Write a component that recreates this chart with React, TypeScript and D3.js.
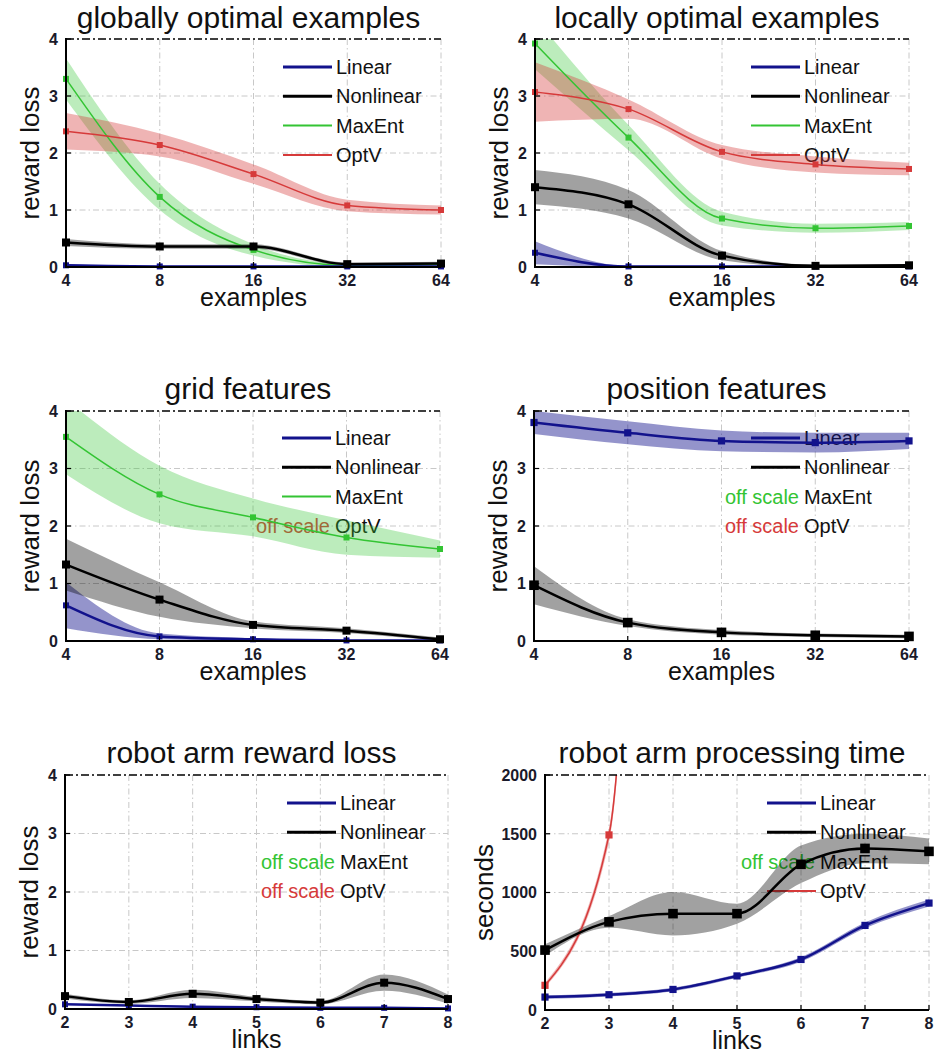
import React from 'react';
import * as d3 from 'd3';

// x values
const exampleCounts = [4, 8, 16, 32, 64];
const linkCounts = [2, 3, 4, 5, 6, 7, 8];
const optVLinks = [2, 3, 4];

// y tick values
const lossTicks = [0, 1, 2, 3, 4];
const timeTicks = [0, 500, 1000, 1500, 2000];

// globally optimal examples (mean, std)
const globalLinear = [0.03, 0.01, 0.01, 0.01, 0.01];
const globalLinearSd = [0.02, 0.01, 0.01, 0.01, 0.01];
const globalNonlinear = [0.43, 0.36, 0.36, 0.05, 0.06];
const globalNonlinearSd = [0.06, 0.04, 0.04, 0.03, 0.03];
const globalMaxEnt = [3.3, 1.23, 0.3, 0.03, 0.05];
const globalMaxEntSd = [0.36, 0.23, 0.1, 0.03, 0.02];
const globalOptV = [2.38, 2.14, 1.63, 1.08, 1.0];
const globalOptVSd = [0.32, 0.2, 0.17, 0.1, 0.08];

// locally optimal examples
const localLinear = [0.25, 0.01, 0.01, 0.01, 0.01];
const localLinearSd = [0.2, 0.01, 0.01, 0.01, 0.01];
const localNonlinear = [1.4, 1.1, 0.2, 0.02, 0.03];
const localNonlinearSd = [0.3, 0.25, 0.08, 0.02, 0.02];
const localMaxEnt = [3.92, 2.27, 0.85, 0.68, 0.72];
const localMaxEntSd = [0.45, 0.22, 0.12, 0.08, 0.07];
const localOptV = [3.07, 2.77, 2.02, 1.8, 1.72];
const localOptVSd = [0.52, 0.17, 0.12, 0.14, 0.11];

// grid features
const gridLinear = [0.62, 0.08, 0.03, 0.01, 0.01];
const gridLinearSd = [0.4, 0.05, 0.02, 0.01, 0.01];
const gridNonlinear = [1.33, 0.72, 0.28, 0.18, 0.03];
const gridNonlinearSd = [0.45, 0.3, 0.06, 0.04, 0.03];
const gridMaxEnt = [3.55, 2.55, 2.15, 1.8, 1.6];
const gridMaxEntSd = [0.65, 0.5, 0.33, 0.3, 0.15];

// position features
const posLinear = [3.8, 3.62, 3.48, 3.45, 3.48];
const posLinearSd = [0.2, 0.2, 0.18, 0.17, 0.14];
const posNonlinear = [0.97, 0.32, 0.15, 0.1, 0.08];
const posNonlinearSd = [0.33, 0.06, 0.04, 0.03, 0.03];

// robot arm reward loss
const armLinear = [0.08, 0.06, 0.04, 0.03, 0.02, 0.02, 0.01];
const armLinearSd = [0.01, 0.01, 0.01, 0.01, 0.01, 0.01, 0.01];
const armNonlinear = [0.22, 0.12, 0.26, 0.17, 0.11, 0.45, 0.17];
const armNonlinearSd = [0.04, 0.03, 0.07, 0.04, 0.03, 0.14, 0.08];

// robot arm processing time (seconds)
const timeLinear = [110, 130, 175, 290, 430, 720, 910];
const timeLinearSd = [15, 15, 15, 15, 20, 25, 30];
const timeNonlinear = [510, 750, 820, 820, 1240, 1375, 1350];
const timeNonlinearSd = [50, 50, 185, 85, 160, 125, 110];
const timeOptV = [210, 1490, 15000];
const timeOptVSd = [20, 60, 300];

const BLUE = '#12128c';
const GREEN = '#33c433';
const RED = '#d63a3a';
const FONT = '"Liberation Sans", Arial, sans-serif';

const styles: Record<string, { color: string; width: number; marker: number; band: number }> = {
  Linear: { color: BLUE, width: 2.5, marker: 6, band: 0.45 },
  Nonlinear: { color: '#000', width: 2.5, marker: 8, band: 0.37 },
  MaxEnt: { color: GREEN, width: 1.5, marker: 6, band: 0.33 },
  OptV: { color: RED, width: 1.5, marker: 6, band: 0.38 },
};

interface Series { name: string; x: number[]; y: number[]; sd: number[] }
interface PanelCfg {
  id: string;
  title: string;
  titleY: number;
  xLabel: string;
  yLabel: string;
  yLabelX: number;
  box: { l: number; r: number; t: number; b: number };
  xLog: boolean;
  xTicks: number[];
  yTicks: number[];
  markerScale: number;
  series: Series[];
  legendX: number;
  legendY: number;
  offScale: string[];
}

const panels: PanelCfg[] = [
  {
    id: 'p1', title: 'globally optimal examples', titleY: 28, xLabel: 'examples', yLabel: 'reward loss', yLabelX: 39,
    box: { l: 66, r: 441, t: 39, b: 267 }, xLog: true, xTicks: exampleCounts, yTicks: lossTicks, markerScale: 1,
    series: [
      { name: 'MaxEnt', x: exampleCounts, y: globalMaxEnt, sd: globalMaxEntSd },
      { name: 'OptV', x: exampleCounts, y: globalOptV, sd: globalOptVSd },
      { name: 'Linear', x: exampleCounts, y: globalLinear, sd: globalLinearSd },
      { name: 'Nonlinear', x: exampleCounts, y: globalNonlinear, sd: globalNonlinearSd },
    ],
    legendX: 336, legendY: 67, offScale: [],
  },
  {
    id: 'p2', title: 'locally optimal examples', titleY: 28, xLabel: 'examples', yLabel: 'reward loss', yLabelX: 508,
    box: { l: 535, r: 909, t: 39, b: 267 }, xLog: true, xTicks: exampleCounts, yTicks: lossTicks, markerScale: 1,
    series: [
      { name: 'Linear', x: exampleCounts, y: localLinear, sd: localLinearSd },
      { name: 'Nonlinear', x: exampleCounts, y: localNonlinear, sd: localNonlinearSd },
      { name: 'MaxEnt', x: exampleCounts, y: localMaxEnt, sd: localMaxEntSd },
      { name: 'OptV', x: exampleCounts, y: localOptV, sd: localOptVSd },
    ],
    legendX: 804, legendY: 67, offScale: [],
  },
  {
    id: 'p3', title: 'grid features', titleY: 399, xLabel: 'examples', yLabel: 'reward loss', yLabelX: 39,
    box: { l: 66, r: 440, t: 411, b: 641 }, xLog: true, xTicks: exampleCounts, yTicks: lossTicks, markerScale: 1,
    series: [
      { name: 'Linear', x: exampleCounts, y: gridLinear, sd: gridLinearSd },
      { name: 'Nonlinear', x: exampleCounts, y: gridNonlinear, sd: gridNonlinearSd },
      { name: 'MaxEnt', x: exampleCounts, y: gridMaxEnt, sd: gridMaxEntSd },
    ],
    legendX: 335, legendY: 438, offScale: ['OptV'],
  },
  {
    id: 'p4', title: 'position features', titleY: 399, xLabel: 'examples', yLabel: 'reward loss', yLabelX: 507,
    box: { l: 534, r: 909, t: 411, b: 641 }, xLog: true, xTicks: exampleCounts, yTicks: lossTicks, markerScale: 1.2,
    series: [
      { name: 'Nonlinear', x: exampleCounts, y: posNonlinear, sd: posNonlinearSd },
      { name: 'Linear', x: exampleCounts, y: posLinear, sd: posLinearSd },
    ],
    legendX: 804, legendY: 438, offScale: ['MaxEnt', 'OptV'],
  },
  {
    id: 'p5', title: 'robot arm reward loss', titleY: 763, xLabel: 'links', yLabel: 'reward loss', yLabelX: 38,
    box: { l: 65, r: 448, t: 775, b: 1009 }, xLog: false, xTicks: linkCounts, yTicks: lossTicks, markerScale: 1,
    series: [
      { name: 'Linear', x: linkCounts, y: armLinear, sd: armLinearSd },
      { name: 'Nonlinear', x: linkCounts, y: armNonlinear, sd: armNonlinearSd },
    ],
    legendX: 340, legendY: 803, offScale: ['MaxEnt', 'OptV'],
  },
  {
    id: 'p6', title: 'robot arm processing time', titleY: 763, xLabel: 'links', yLabel: 'seconds', yLabelX: 493,
    box: { l: 545, r: 929, t: 775, b: 1010 }, xLog: false, xTicks: linkCounts, yTicks: timeTicks, markerScale: 1.2,
    series: [
      { name: 'OptV', x: optVLinks, y: timeOptV, sd: timeOptVSd },
      { name: 'Nonlinear', x: linkCounts, y: timeNonlinear, sd: timeNonlinearSd },
      { name: 'Linear', x: linkCounts, y: timeLinear, sd: timeLinearSd },
    ],
    legendX: 820, legendY: 803, offScale: ['MaxEnt'],
  },
];

const legendNames = ['Linear', 'Nonlinear', 'MaxEnt', 'OptV'];

const Panel: React.FC<{ cfg: PanelCfg }> = ({ cfg }) => {
  const { box } = cfg;
  const x0 = cfg.xTicks[0];
  const x1 = cfg.xTicks[cfg.xTicks.length - 1];
  const yMax = cfg.yTicks[cfg.yTicks.length - 1];
  const x = cfg.xLog
    ? d3.scaleLog().base(2).domain([x0, x1]).range([box.l, box.r])
    : d3.scaleLinear().domain([x0, x1]).range([box.l, box.r]);
  const y = d3.scaleLinear().domain([0, yMax]).range([box.b, box.t]);
  const clipId = `clip-${cfg.id}`;
  const grid = '#c8c8c8';
  const dashDot = '6,3,1.5,3';

  return (
    <g>
      <defs>
        <clipPath id={clipId}>
          <rect x={box.l - 12} y={box.t} width={box.r - box.l + 24} height={box.b - box.t + 6} />
        </clipPath>
      </defs>

      {/* grid */}
      {cfg.xTicks.slice(1).map((t) => (
        <line key={`gx${t}`} x1={x(t)} x2={x(t)} y1={box.t} y2={box.b} stroke={grid} strokeDasharray={dashDot} />
      ))}
      {cfg.yTicks.slice(1, -1).map((t) => (
        <line key={`gy${t}`} x1={box.l} x2={box.r} y1={y(t)} y2={y(t)} stroke={grid} strokeDasharray={dashDot} />
      ))}

      {/* legend, drawn under the data like the original */}
      {legendNames.map((name, i) => {
        const ly = cfg.legendY + i * 29.3;
        const st = styles[name];
        const off = cfg.offScale.includes(name);
        return (
          <g key={name}>
            {off ? (
              <text x={cfg.legendX - 5} y={ly} dy="0.35em" textAnchor="end" fontSize={20} fill={st.color} fontFamily={FONT}>
                off scale
              </text>
            ) : (
              <line x1={cfg.legendX - 53} x2={cfg.legendX - 4} y1={ly} y2={ly} stroke={st.color} strokeWidth={st.width + 0.5} />
            )}
            <text x={cfg.legendX} y={ly} dy="0.35em" fontSize={20} fill="#111" fontFamily={FONT}>
              {name}
            </text>
          </g>
        );
      })}

      {/* bands and lines */}
      <g clipPath={`url(#${clipId})`}>
        {cfg.series.map((s) => {
          const st = styles[s.name];
          const area = d3
            .area<number>()
            .x((_, i) => x(s.x[i]))
            .y0((d, i) => y(d - s.sd[i]))
            .y1((d, i) => y(d + s.sd[i]))
            .curve(d3.curveMonotoneX);
          return <path key={`b${s.name}`} d={area(s.y) || ''} fill={st.color} fillOpacity={st.band} stroke="none" />;
        })}
        {cfg.series.map((s) => {
          const st = styles[s.name];
          const line = d3
            .line<number>()
            .x((_, i) => x(s.x[i]))
            .y((d) => y(d))
            .curve(d3.curveMonotoneX);
          return <path key={`l${s.name}`} d={line(s.y) || ''} fill="none" stroke={st.color} strokeWidth={st.width} />;
        })}
      </g>

      {/* markers */}
      {cfg.series.map((s) => {
        const st = styles[s.name];
        const m = st.marker * cfg.markerScale;
        return s.y.map((v, i) =>
          v > yMax ? null : (
            <rect key={`m${s.name}${i}`} x={x(s.x[i]) - m / 2} y={y(v) - m / 2} width={m} height={m} fill={st.color} />
          )
        );
      })}

      {/* axes */}
      <line x1={box.l} x2={box.r} y1={box.t} y2={box.t} stroke="#000" strokeWidth={1.5} strokeDasharray="8,3,2,3" />
      <line x1={box.l} x2={box.l} y1={box.t - 1} y2={box.b + 1} stroke="#000" strokeWidth={2} />
      <line x1={box.l - 1} x2={box.r} y1={box.b} y2={box.b} stroke="#000" strokeWidth={2} />
      {cfg.yTicks.map((t) => (
        <g key={`yt${t}`}>
          <line x1={box.l} x2={box.l + 5} y1={y(t)} y2={y(t)} stroke="#000" strokeWidth={1.2} />
          <text x={box.l - 8} y={y(t)} dy="0.36em" textAnchor="end" fontSize={16} fontWeight="bold" fill="#1a1a2a" fontFamily={FONT}>
            {t}
          </text>
        </g>
      ))}
      {cfg.xTicks.map((t) => (
        <g key={`xt${t}`}>
          <line x1={x(t)} x2={x(t)} y1={box.b} y2={box.b - 5} stroke="#000" strokeWidth={1.2} />
          <text x={x(t)} y={box.b + 19} textAnchor="middle" fontSize={16} fontWeight="bold" fill="#1a1a2a" fontFamily={FONT}>
            {t}
          </text>
        </g>
      ))}

      {/* labels */}
      <text x={(box.l + box.r) / 2 - 5} y={cfg.titleY} textAnchor="middle" fontSize={30} fill="#111" fontFamily={FONT}>
        {cfg.title}
      </text>
      <text x={(box.l + box.r) / 2} y={box.b + 39} textAnchor="middle" fontSize={25} fill="#111" fontFamily={FONT}>
        {cfg.xLabel}
      </text>
      <text
        transform={`translate(${cfg.yLabelX},${(box.t + box.b) / 2}) rotate(-90)`}
        textAnchor="middle"
        fontSize={26}
        fill="#111"
        fontFamily={FONT}
      >
        {cfg.yLabel}
      </text>
    </g>
  );
};

const App: React.FC = () => (
  <svg width={940} height={1053} style={{ position: 'absolute', left: 0, top: 0, background: '#fff' }}>
    <rect width={940} height={1053} fill="#fff" />
    {panels.map((p) => (
      <Panel key={p.id} cfg={p} />
    ))}
  </svg>
);

export default App;
